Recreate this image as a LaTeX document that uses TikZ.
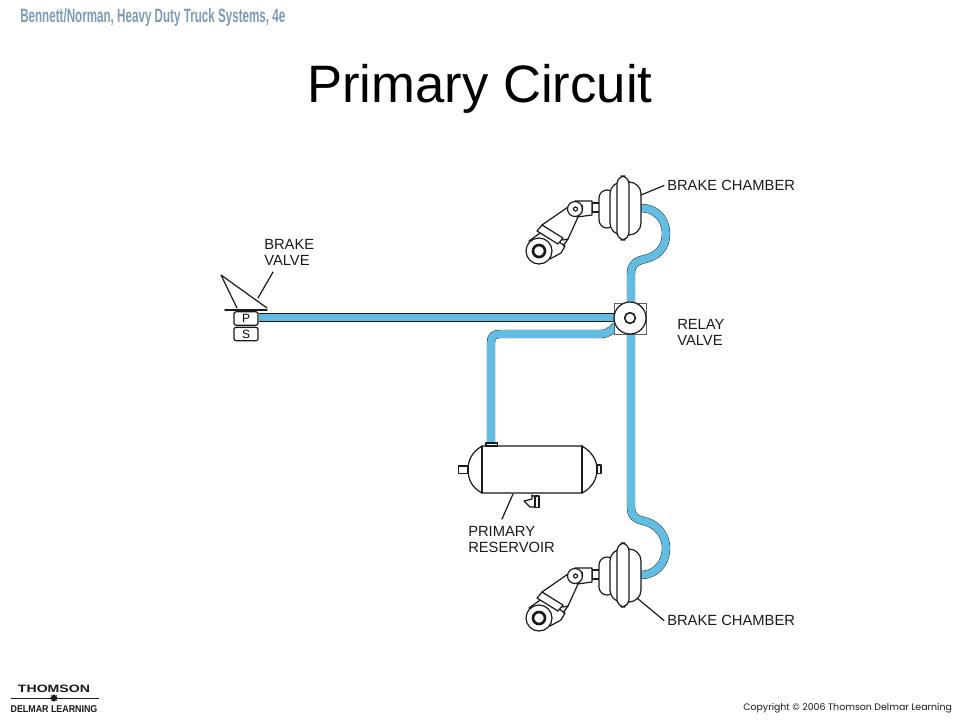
\documentclass[tikz,border=0pt]{standalone}
\usepackage{fontspec}
\usetikzlibrary{shapes.geometric}
\setmainfont{Liberation Sans}
\newfontfamily\geofont{Poppins}
\definecolor{pipeblue}{HTML}{62BDE3}
\definecolor{hdrblue}{HTML}{7B9CB6}
\definecolor{inkline}{HTML}{1A1A1A}
\tikzset{
  ink/.style={draw=inkline,line width=0.9pt,line join=round,line cap=round},
  inkfill/.style={ink,fill=white},
  lbl/.style={inner sep=0pt,align=left,anchor=west,font=\fontsize{11.05}{12}\selectfont,text=inkline},
  pipeouter/.style={draw=inkline,line width=6.3pt,line join=round},
  pipeinner/.style={draw=pipeblue,line width=5.7pt,line join=round},
  portbox/.style={rectangle,rounded corners=1.5pt,draw=inkline,line width=0.9pt,minimum width=18pt,minimum height=10pt,inner sep=0pt,fill=white,font=\fontsize{9}{10}\selectfont},
  chamberunit/.pic={
    % pushrod
    \draw[inkfill] (-31,-5) rectangle (-23,4);
    % slack adjuster arm
    \draw[inkfill] (-55,-1) -- (-81,17) -- (-60,32) -- (-55,31) -- (-45,9) -- cycle;
    % cylinder body
    \draw[inkfill] (-94,33) -- (-80,23) -- (-58,38) -- (-62,45) -- (-73,51) -- cycle;
    % collar
    \draw[inkfill] (-81,17) -- (-86,23) -- (-65,36) -- (-60,30) -- cycle;
    \draw[ink] (-60,38) -- (-55,31);
    % drum
    \draw[inkfill] (-84,43) circle (13);
    \draw[draw=inkline,line width=2pt,fill=white] (-84,43) circle (6);
    % clevis
    \draw[inkfill] (-48,-7) -- (-31,-7) -- (-31,7) -- (-46,9) -- cycle;
    \draw[inkfill] (-48,1) circle (7.5);
    \draw[ink] (-47.5,1) circle (2);
    \draw[ink] (-41,-3) arc (-30:30:4);
    % bellows
    \draw[inkfill,rounded corners=6pt] (-24,-18) rectangle (-8,20);
    \draw[inkfill,rounded corners=9pt] (-13,-26) rectangle (18,27);
    \draw[inkfill,rounded corners=6pt] (-6,-32) rectangle (6,32);
  }
}
\begin{document}
\begin{tikzpicture}[x=0.75pt,y=-0.75pt]
\useasboundingbox (0,0) rectangle (959,719);
\fill[white] (0,0) rectangle (959,719);
% Header and title
\node[inner sep=0pt,anchor=west,text=hdrblue] (hdr) at (20,17) {\resizebox{198.8pt}{10.5pt}{\bfseries Bennett/Norman, Heavy Duty Truck Systems, 4e}};
\node[inner sep=0pt,anchor=base west] (title) at (307,102) {\fontsize{39.5}{44}\selectfont Primary Circuit};
% Anchors for the pipework
\coordinate (valveport) at (259,317.5);
\coordinate (relayW) at (614,317.5);
\coordinate (relayS) at (631,335);
\coordinate (relayN) at (631,302);
\coordinate (tankport) at (491,444);
\coordinate (topcham) at (641,208);
\coordinate (botcham) at (641,575);
% Pipes
\foreach \st in {pipeouter,pipeinner}{
  \draw[\st] (valveport) -- (relayW);
  \draw[\st] (tankport) -- (491,343) .. controls (491,336) and (494,334) .. (500,334) -- (600,334) .. controls (608,334) and (610,331) .. (616,326);
  \draw[\st] (relayN) -- (631,274) .. controls (631,264) and (636,261) .. (645,259) .. controls (658,256) and (666,247) .. (666,234) .. controls (666,218) and (655,208) .. (topcham);
  \draw[\st] (relayS) -- (631,507) .. controls (631,516) and (635,519) .. (644,521) .. controls (657,524) and (666,535) .. (666,548) .. controls (666,564) and (655,575) .. (botcham);
}
% Relay valve
\node[draw=inkline!70,line width=0.6pt,minimum width=24pt,minimum height=23.25pt,inner sep=0pt,fill=white] (relaybox) at (630,318.5) {};
\draw[inkfill] (630,318) circle (16);
\node[circle,draw=inkline,line width=1.2pt,minimum size=8pt,inner sep=0pt] (relaycore) at (630,318) {};
% Brake chambers
\path (623,208) pic {chamberunit};
\path (623,575) pic {chamberunit};
% Brake valve
\draw[inkfill] (237,308) -- (221,275) -- (267,308);
\draw[ink,line width=1.1pt] (225,309.8) -- (267,309.8);
\node[portbox] (P) at (246,318.5) {P};
\node[portbox] (S) at (246,334) {S};
% Reservoir
\draw[inkfill] (482,446) .. controls (472,452) and (468,460) .. (468,469.5) .. controls (468,479) and (472,488) .. (482,493) -- (582,493) .. controls (592,488) and (597,479) .. (597,469.5) .. controls (597,460) and (592,452) .. (582,446) -- cycle;
\draw[ink] (482,446) -- (482,493) (582,446) -- (582,493);
\draw[inkfill] (458.5,466) rectangle (468,473.5);
\draw[inkfill] (597,465) rectangle (601,473.5);
\draw[inkfill] (486,443) rectangle (497.5,446);
\draw[inkfill] (532,495) -- (532,499) -- (524,501) -- (530,507) -- (535,507) -- (535,497) -- cycle;
\draw[inkfill] (535,496) rectangle (539,507.5);
% Labels
\node[lbl] (lbrakevalve) at (264,252.5) {BRAKE\\VALVE};
\node[lbl] (lrelay) at (677,332.5) {RELAY\\VALVE};
\node[lbl] (lres) at (468,539) {PRIMARY\\RESERVOIR};
\node[lbl] (lchamtop) at (667,185.5) {BRAKE CHAMBER};
\node[lbl] (lchambot) at (667,620.5) {BRAKE CHAMBER};
% Leaders
\coordinate (cTop) at (641,195);
\coordinate (cBot) at (637,598);
\coordinate (cVal) at (258,298);
\coordinate (cValT) at (273,272);
\coordinate (cRes) at (513,494);
\coordinate (cResB) at (502,519);
\draw[ink] (lchamtop.west) ++(-3,0) -- (cTop);
\draw[ink] (lchambot.west) ++(-3,0) -- (cBot);
\draw[ink] (cValT) -- (cVal);
\draw[ink] (cResB) -- (cRes);
% Footer
\node[inner sep=0pt,anchor=center,text=inkline] (thomson) at (54,689) {\resizebox{54pt}{5.6pt}{\bfseries THOMSON}};
\draw[line width=0.5pt,inkline] (11,698) -- (99,698);
\node[star,star points=8,fill=inkline,inner sep=0pt,minimum size=6pt] (starmark) at (54,698) {};
\node[inner sep=0pt,anchor=center,text=inkline] (delmar) at (54,709) {\resizebox{65pt}{5.2pt}{\bfseries DELMAR LEARNING}};
\node[inner sep=0pt,anchor=west,text=inkline] (copy) at (743,708) {\resizebox{156.5pt}{!}{\geofont Copyright © 2006 Thomson Delmar Learning}};
\end{tikzpicture}
\end{document}
